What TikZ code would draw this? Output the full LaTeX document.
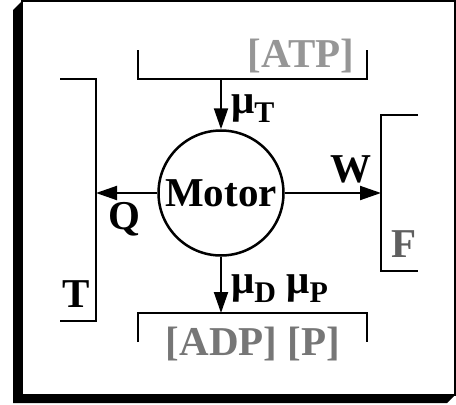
\documentclass[tikz,border=0pt]{standalone}
\usepackage{fontspec}
\setmainfont{Liberation Serif}
\usepackage{tikz}
\usetikzlibrary{arrows.meta}
\definecolor{atpgray}{RGB}{150,150,150}
\definecolor{adpgray}{RGB}{118,118,118}
\definecolor{loadgray}{RGB}{95,95,95}
\newcommand{\bigbf}{\fontsize{41}{45}\selectfont\bfseries}
\newcommand{\subbf}[1]{\raisebox{-0.24em}{\fontsize{30}{32}\selectfont #1}}

\begin{document}
\begin{tikzpicture}[x=1pt,y=-1pt,
    lbl/.style={font=\bigbf,inner sep=0pt,anchor=base},
    wall/.style={line width=2.5pt},
    flow/.style={line width=2pt,-{Triangle[length=21pt,width=14pt]}}]
  \useasboundingbox (0,0) rectangle (456,405);
  % frame with drop shadow
  \fill[black] (22,1) -- (13,10) -- (13,403) -- (447,403) -- (455,395) -- cycle;
  \draw[line width=2pt,fill=white] (22,1) rectangle (455,395);

  % motor
  \node[draw,circle,line width=2.5pt,minimum size=125pt,inner sep=0pt,font=\bigbf]
    (motor) at (221,193) {Motor};

  % reservoirs
  \draw[wall] (138,50) -- (138,79) -- (367,79) -- (367,50);
  \draw[wall] (138,342) -- (138,313) -- (367,313) -- (367,342);
  \draw[wall] (60,79) -- (96,79) -- (96,321) -- (60,321);
  \draw[wall] (418,115) -- (381,115) -- (381,271) -- (418,271);
  \coordinate (atpin) at (221,79);
  \coordinate (adpout) at (221,313);
  \coordinate (heatout) at (96,193);
  \coordinate (loadin) at (381,193);

  % fluxes
  \draw[flow] (atpin) -- (motor);
  \draw[flow] (motor) -- (adpout);
  \draw[flow] (motor) -- (heatout);
  \draw[flow] (motor) -- (loadin);

  % labels
  \node[lbl,text=atpgray] (atp) at (301,67) {[ATP]};
  \node[lbl,anchor=base west] (muT) at (231,113) {μ\subbf{T}};
  \node[lbl] (q) at (124,229) {Q};
  \node[lbl] (t) at (76,307) {T};
  \node[lbl] (w) at (351,182) {W};
  \node[lbl,text=loadgray] (f) at (404,257) {F};
  \node[lbl,anchor=base west] (mudp) at (231,293) {μ\subbf{D} μ\subbf{P}};
  \node[lbl,text=adpgray] (adp) at (253,355) {[ADP] [P]};
\end{tikzpicture}
\end{document}
